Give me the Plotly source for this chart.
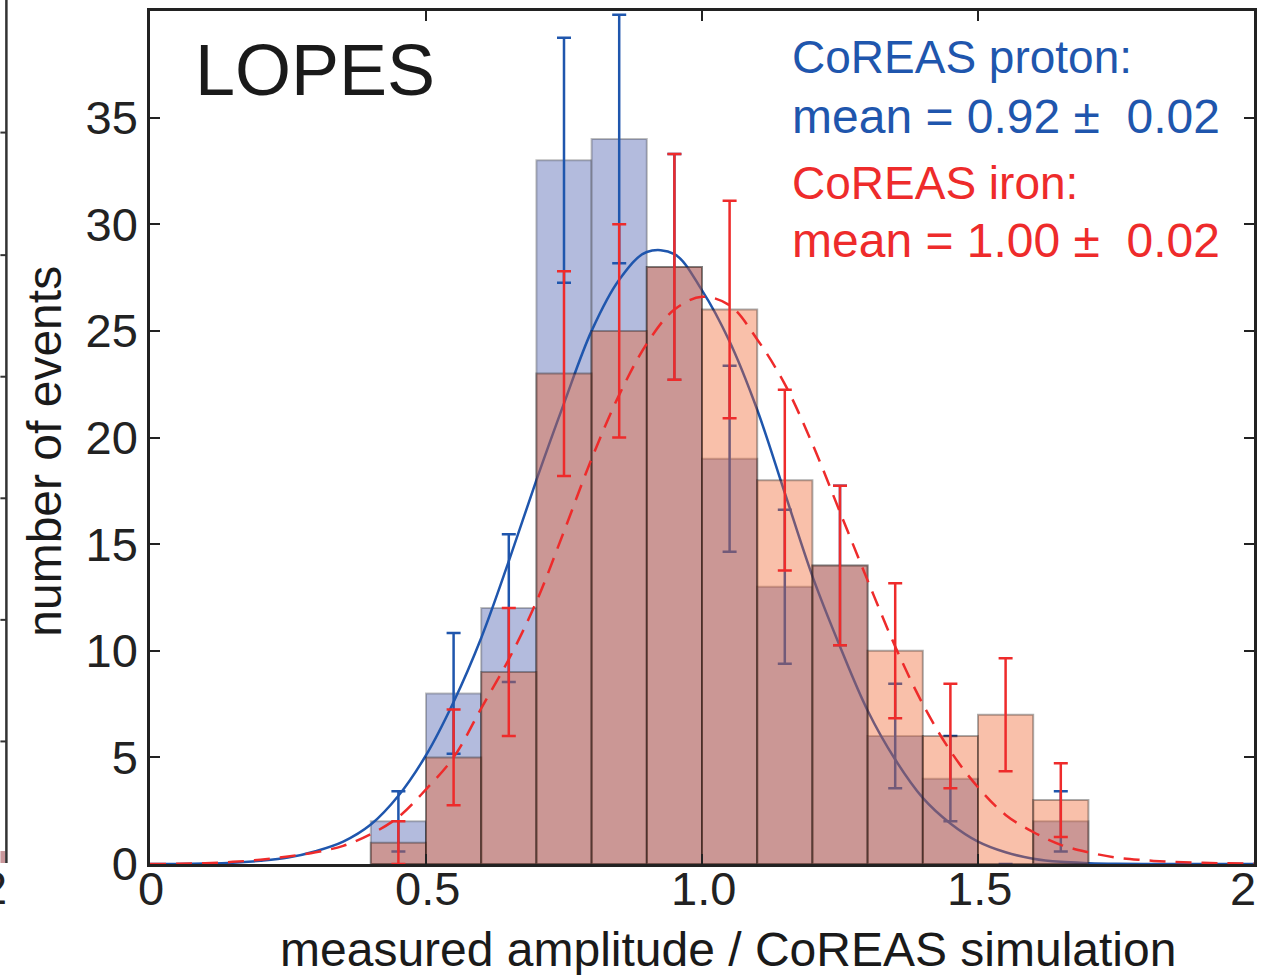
import plotly.graph_objects as go

# ---------------- data ----------------
bin_centers = [0.45, 0.55, 0.65, 0.75, 0.85, 0.95, 1.05, 1.15, 1.25, 1.35, 1.45, 1.55, 1.65]
proton_counts = [2, 8, 12, 33, 34, 28, 19, 13, 14, 6, 4, 0, 2]
proton_err = [1.41, 2.83, 3.46, 5.74, 5.83, 5.29, 4.36, 3.61, 3.74, 2.45, 2.0, 0.0, 1.41]
iron_counts = [1, 5, 9, 23, 25, 28, 26, 18, 14, 10, 6, 7, 3]
iron_err = [1.0, 2.24, 3.0, 4.80, 5.0, 5.29, 5.10, 4.24, 3.74, 3.16, 2.45, 2.65, 1.73]

curve_x = [0.0, 0.05, 0.1, 0.15, 0.2, 0.25, 0.3, 0.35, 0.4, 0.45, 0.5, 0.55, 0.6, 0.65,
           0.7, 0.75, 0.8, 0.85, 0.9, 0.95, 1.0, 1.05, 1.1, 1.15, 1.2, 1.25, 1.3, 1.35,
           1.4, 1.45, 1.5, 1.55, 1.6, 1.65, 1.7, 1.75, 1.8, 1.85, 1.9, 1.95, 2.0]
proton_fit = [0.0, 0.005, 0.02, 0.06, 0.15, 0.3, 0.6, 1.05, 1.85, 3.2, 5.1, 7.6, 10.6, 14.2,
              18.0, 21.6, 25.0, 27.4, 28.7, 28.6, 26.9, 24.5, 21.3, 17.4, 13.5, 10.2, 7.2, 4.9,
              3.1, 1.9, 1.05, 0.55, 0.25, 0.1, 0.04, 0.01, 0.0, 0.0, 0.0, 0.0, 0.0]
iron_fit = [0.0, 0.01, 0.04, 0.1, 0.2, 0.35, 0.55, 0.85, 1.4, 2.2, 3.5, 5.0, 7.3, 9.6,
            12.3, 15.6, 19.0, 22.0, 24.4, 26.0, 26.6, 26.2, 24.6, 22.5, 19.7, 16.5, 13.3, 10.2,
            7.5, 5.3, 3.6, 2.3, 1.5, 0.9, 0.55, 0.3, 0.18, 0.1, 0.06, 0.03, 0.02]

x_tickvals = [0, 0.5, 1.0, 1.5, 2.0]
x_ticktext = ["0", "0.5", "1.0", "1.5", "2"]
y_tickvals = [0, 5, 10, 15, 20, 25, 30, 35]

BLUE = "#1f56ad"
RED = "#ee2b2b"
FONT = "Liberation Sans, Arial, Helvetica, sans-serif"

fig = go.Figure()

# proton (base layer)
fig.add_trace(go.Bar(
    x=bin_centers, y=proton_counts, width=0.1,
    marker=dict(color="#b3bbdd", line=dict(color="rgba(0,0,0,0.25)", width=2)),
    error_y=dict(type="data", array=proton_err, color=BLUE, thickness=2.5, width=7),
    xaxis="x", yaxis="y", showlegend=False,
))
fig.add_trace(go.Scatter(
    x=curve_x, y=proton_fit, mode="lines", line=dict(color=BLUE, width=2.5, shape="spline"),
    xaxis="x", yaxis="y", showlegend=False,
))

# iron (overlay layer)
fig.add_trace(go.Bar(
    x=bin_centers, y=iron_counts, width=0.1,
    marker=dict(color="rgba(240,98,43,0.4)", line=dict(color="rgba(0,0,0,0.32)", width=2)),
    error_y=dict(type="data", array=iron_err, color=RED, thickness=2.5, width=7),
    xaxis="x2", yaxis="y2", showlegend=False,
))
fig.add_trace(go.Scatter(
    x=curve_x, y=iron_fit, mode="lines",
    line=dict(color=RED, width=2.5, shape="spline", dash="16px,10px"),
    xaxis="x2", yaxis="y2", showlegend=False,
))

axis_common = dict(
    showgrid=False, zeroline=False, showline=True, linecolor="#222", linewidth=2.5,
    mirror="ticks", ticks="inside", ticklen=10, tickwidth=2, tickcolor="#222",
    tickfont=dict(family=FONT, size=47, color="#222"),
)

fig.update_layout(
    width=1265, height=975,
    margin=dict(l=150, r=8, t=8, b=111),
    paper_bgcolor="white", plot_bgcolor="white",
    barmode="overlay",
    xaxis=dict(range=[0, 2], tickvals=x_tickvals, showticklabels=False, **axis_common),
    yaxis=dict(range=[0, 40], tickvals=y_tickvals, ticklabelstandoff=0, **axis_common),
    xaxis2=dict(range=[0, 2], overlaying="x", anchor="y2", visible=False),
    yaxis2=dict(range=[0, 40], overlaying="y", anchor="x2", visible=False),
    font=dict(family=FONT, color="#222"),
)

ann = [
    dict(x=0.077, y=37.25, xref="x", yref="y", text="LOPES", showarrow=False,
         xanchor="left", yanchor="middle", font=dict(size=72, color="#1a1a1a", family=FONT)),
    dict(x=1.16, y=37.85, xref="x", yref="y", text="CoREAS proton:", showarrow=False,
         xanchor="left", yanchor="middle", font=dict(size=46, color=BLUE, family=FONT)),
    dict(x=1.16, y=35.05, xref="x", yref="y", text="mean = 0.92 ±  0.02", showarrow=False,
         xanchor="left", yanchor="middle", font=dict(size=48, color=BLUE, family=FONT)),
    dict(x=1.16, y=31.95, xref="x", yref="y", text="CoREAS iron:", showarrow=False,
         xanchor="left", yanchor="middle", font=dict(size=46, color=RED, family=FONT)),
    dict(x=1.16, y=29.25, xref="x", yref="y", text="mean = 1.00 ±  0.02", showarrow=False,
         xanchor="left", yanchor="middle", font=dict(size=48, color=RED, family=FONT)),
    # axis titles
    dict(x=(730 - 150) / 1107, y=(864 - 950) / 856, xref="paper", yref="paper",
         text="measured amplitude / CoREAS simulation", showarrow=False,
         xanchor="center", yanchor="middle", font=dict(size=48, color="#1a1a1a", family=FONT)),
    dict(x=(44 - 150) / 1107, y=(864 - 450) / 856, xref="paper", yref="paper",
         text="number of events", textangle=-90, showarrow=False,
         xanchor="center", yanchor="middle", font=dict(size=48, color="#1a1a1a", family=FONT)),
    # fragment of the neighbouring panel at the left edge
    dict(x=(-6 - 150) / 1107, y=(864 - 888) / 856, xref="paper", yref="paper",
         text="2", showarrow=False, xanchor="center", yanchor="middle",
         font=dict(size=47, color="#222", family=FONT)),
]
# x tick labels placed at the axis' tick values
for i, (tv, tt) in enumerate(zip(x_tickvals, x_ticktext)):
    last = i == len(x_tickvals) - 1
    ann.append(dict(x=tv, y=(864 - 889) / 856, xref="x", yref="paper", text=tt,
                    showarrow=False, xanchor="right" if last else "center",
                    xshift=4 if last else 1, yanchor="middle",
                    font=dict(size=47, color="#222", family=FONT)))
fig.update_layout(annotations=ann)

shapes = [
    dict(type="rect", xref="paper", yref="paper",
         x0=(0 - 150) / 1107, x1=(5 - 150) / 1107, y0=(864 - 863) / 856, y1=(864 - 851) / 856,
         fillcolor="#c9979b", line=dict(width=0)),
    dict(type="line", xref="paper", yref="paper",
         x0=(6 - 150) / 1107, x1=(6 - 150) / 1107, y0=(864 - 863) / 856, y1=1.02,
         line=dict(color="#333", width=2.5)),
]
for ty in [130, 253, 375, 497, 619, 741]:
    shapes.append(dict(type="line", xref="paper", yref="paper",
                       x0=(0 - 150) / 1107, x1=(6 - 150) / 1107,
                       y0=(864 - ty) / 856, y1=(864 - ty) / 856,
                       line=dict(color="#333", width=2)))
fig.update_layout(shapes=shapes)

fig.write_html("out.html")
